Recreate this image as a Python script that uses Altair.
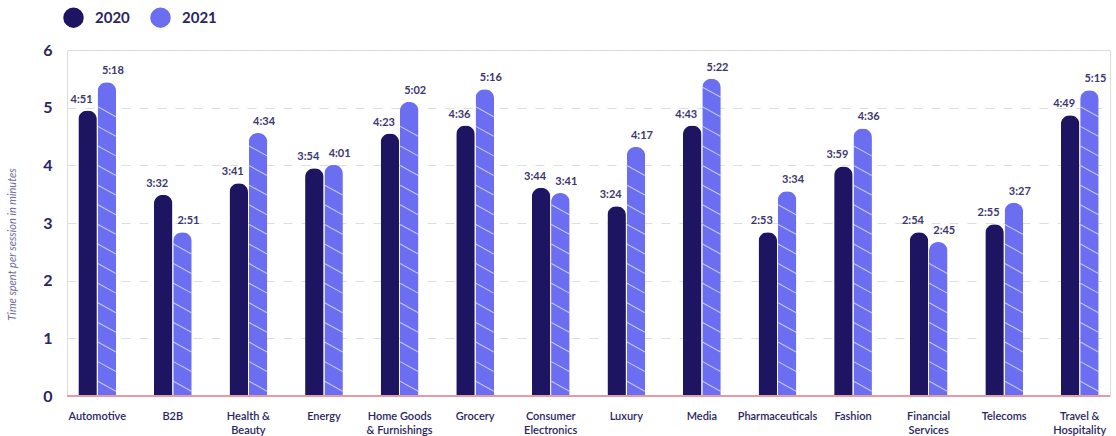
import altair as alt
import pandas as pd

categories = ["Automotive", "B2B", "Health & Beauty", "Energy", "Home Goods & Furnishings",
              "Grocery", "Consumer Electronics", "Luxury", "Media", "Pharmaceuticals",
              "Fashion", "Financial Services", "Telecoms", "Travel & Hospitality"]
label_lines = [["Automotive"], ["B2B"], ["Health &", "Beauty"], ["Energy"],
               ["Home Goods", "& Furnishings"], ["Grocery"], ["Consumer", "Electronics"],
               ["Luxury"], ["Media"], ["Pharmaceuticals"], ["Fashion"],
               ["Financial", "Services"], ["Telecoms"], ["Travel &", "Hospitality"]]
years = ["2020", "2021"]
# labels as printed
t2020 = ["4:51", "3:32", "3:41", "3:54", "4:23", "4:36", "3:44", "3:24", "4:43", "2:53", "3:59", "2:54", "2:55", "4:49"]
t2021 = ["5:18", "2:51", "4:34", "4:01", "5:02", "5:16", "3:41", "4:17", "5:22", "3:34", "4:36", "2:45", "3:27", "5:15"]
# bar heights as drawn
v2020 = [4.95, 3.49, 3.69, 3.95, 4.55, 4.69, 3.61, 3.29, 4.69, 2.84, 3.98, 2.84, 2.98, 4.87]
v2021 = [5.44, 2.84, 4.56, 4.01, 5.10, 5.32, 3.52, 4.32, 5.50, 3.55, 4.64, 2.67, 3.35, 5.30]
colors = ["#1d1462", "#6b6ef0"]

rows = []
hatch = []
for c, a, b, va, vb in zip(categories, t2020, t2021, v2020, v2021):
    rows.append({"category": c, "year": "2020", "value": va, "label": a})
    rows.append({"category": c, "year": "2021", "value": vb, "label": b})
    k = 0
    while True:
        y = 0.17 + 0.34 * k
        if y > vb - 0.22:
            break
        hatch.append({"category": c, "year": "2021", "hy": y})
        k += 1

df = pd.DataFrame(rows)
hdf = pd.DataFrame(hatch)

FONT = "Lato"
NAVY = "#2a2561"

names_js = "[" + ",".join("'" + c + "'" for c in categories) + "]"
lines_js = "[" + ",".join("[" + ",".join("'" + l + "'" for l in ls) + "]" for ls in label_lines) + "]"
label_expr = f"{lines_js}[indexof({names_js}, datum.label)]"

x_enc = alt.X("category:N", sort=categories,
              scale=alt.Scale(paddingInner=0.5, paddingOuter=0.15),
              axis=alt.Axis(title=None, labelAngle=0, domain=False, ticks=False,
                            labelPadding=14, labelFontSize=11, labelFontWeight=600,
                            labelColor=NAVY, labelLineHeight=14, labelFont=FONT,
                            labelExpr=label_expr))
xo_enc = alt.XOffset("year:N", sort=years, scale=alt.Scale(paddingInner=0.04))
y_scale = alt.Scale(domain=[0, 6], nice=False)

bars = alt.Chart(df).mark_bar(cornerRadiusTopLeft=9, cornerRadiusTopRight=9).encode(
    x=x_enc,
    xOffset=xo_enc,
    y=alt.Y("value:Q", scale=y_scale,
            axis=alt.Axis(values=[0, 1, 2, 3, 4, 5, 6], format="d", grid=True, gridDash=[9, 9],
                          gridColor="#dedede", gridWidth=1, domain=False, ticks=False,
                          labelFontSize=16, labelFontWeight="bold", labelColor=NAVY,
                          labelFont=FONT, labelPadding=15,
                          title="Time spent per session in minutes",
                          titleFontStyle="italic", titleFontWeight="normal",
                          titleFontSize=11, titleColor="#6f6a9c", titleFont=FONT,
                          titleAngle=-90, titleX=-55, titleY=194,
                          titleAlign="center", titleBaseline="middle")),
    color=alt.Color("year:N", sort=years, scale=alt.Scale(domain=years, range=colors),
                    legend=alt.Legend(title=None, orient="none", legendX=-4, legendY=-43,
                                      direction="horizontal", symbolType="circle",
                                      symbolSize=420, symbolStrokeWidth=0,
                                      labelFontSize=15, labelFontWeight="bold",
                                      labelColor=NAVY, labelFont=FONT, labelOffset=11,
                                      columnPadding=20)),
)

hatches = alt.Chart(hdf).mark_point(shape="M-1,-0.55L1,0.55", filled=False, stroke="white",
                                    strokeWidth=1.1, opacity=0.6, size=324).encode(
    x=alt.X("category:N", sort=categories),
    xOffset=alt.XOffset("year:N", sort=years),
    y=alt.Y("hy:Q", scale=y_scale),
)


def label_layer(year, dx):
    return alt.Chart(df).transform_filter(alt.datum.year == year).mark_text(
        dy=-6, dx=dx, baseline="bottom", fontSize=11, fontWeight="bold",
        font=FONT, color="#3b3670").encode(
        x=alt.X("category:N", sort=categories),
        xOffset=alt.XOffset("year:N", sort=years),
        y=alt.Y("value:Q", scale=y_scale),
        text="label:N",
    )


zero = alt.Chart(pd.DataFrame({"z": [0]})).mark_rule(color="#e59aa6", strokeWidth=2).encode(
    y=alt.Y("z:Q", scale=y_scale))

chart = alt.layer(bars, hatches, label_layer("2020", -6), label_layer("2021", 6), zero).properties(
    width=1043, height=346,
    autosize=alt.AutoSizeParams(type="none"),
    padding={"left": 67, "top": 50, "right": 6, "bottom": 40},
).configure_view(stroke=None).configure(background="white")

chart.save("out.html", embed_options={"renderer": "svg", "actions": False})
